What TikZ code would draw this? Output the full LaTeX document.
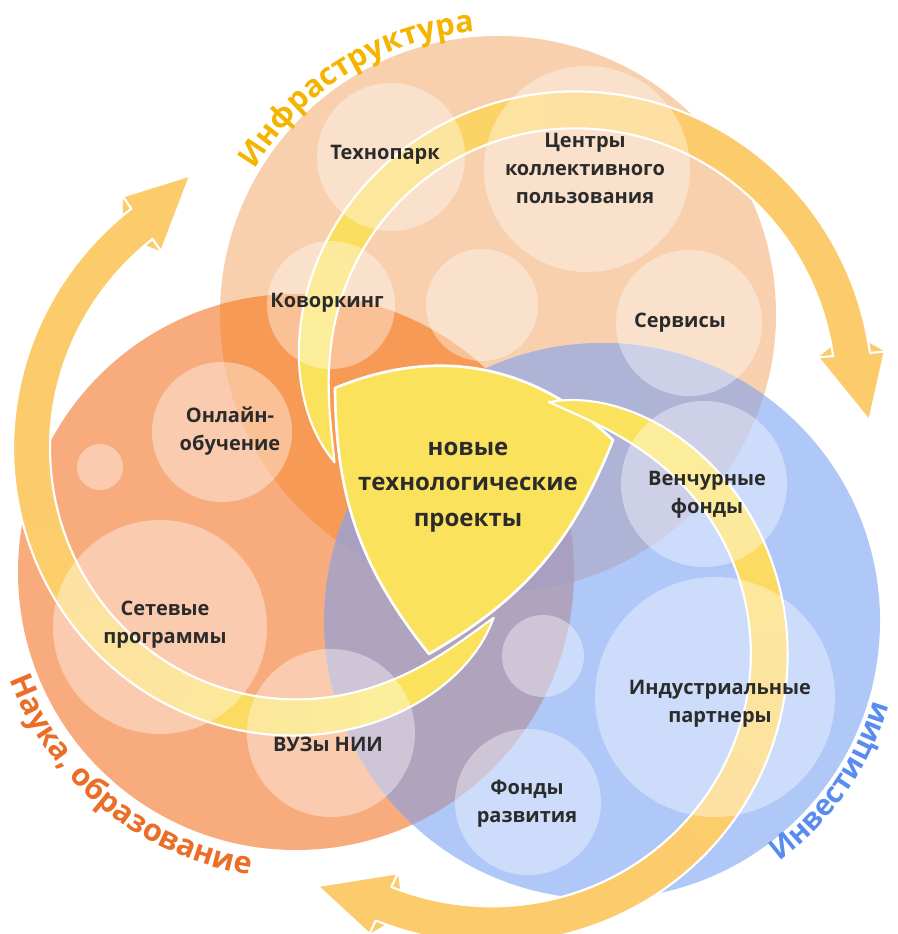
\documentclass[tikz,border=0pt]{standalone}
\usepackage{fontspec}
\setmainfont{Open Sans}
\usetikzlibrary{decorations.text}
\definecolor{peach}{HTML}{F8D0AE}
\definecolor{orng}{HTML}{F8AC7D}
\definecolor{blu}{HTML}{AFC8F8}
\definecolor{po}{HTML}{F79A56}
\definecolor{ob}{HTML}{B0A3BE}
\definecolor{pb}{HTML}{AFB4D7}
\definecolor{pob}{HTML}{A99FC0}
\definecolor{arr}{HTML}{FCCB6C}
\definecolor{ctr}{HTML}{FAE25C}
\definecolor{txt}{HTML}{2B2B2B}
\definecolor{infc}{HTML}{F5B400}
\definecolor{nauc}{HTML}{EB6E28}
\definecolor{invc}{HTML}{5A8CF0}
% one spiral arrow (the others are rotated copies)
\newcommand{\triarrow}{%
  \foreach \k in {0,...,19}{%
    \pgfmathsetmacro{\ta}{160+\k*9.75}%
    \pgfmathsetmacro{\tb}{min(355,\ta+10.5)}%
    \pgfmathtruncatemacro{\pc}{min(100,max(0,(\ta-190)*1.05))}%
    \fill[arr!\pc!ctr] plot[domain=\ta:\tb,samples=6,variable=\t]
      ({560+(rr(\t)+ww(\t))*cos(\t)},{380+(rr(\t)+ww(\t))*sin(\t)})
      -- plot[domain=\tb:\ta,samples=6,variable=\t]
      ({560+(rr(\t)-ww(\t))*cos(\t)},{380+(rr(\t)-ww(\t))*sin(\t)}) -- cycle;
  }%
  \fill[arr] (884.8,351.6) -- (869.3,420.7) -- (818.0,357.4)
     -- ({560+(rr(353)-ww(353))*cos(353)},{380+(rr(353)-ww(353))*sin(353)})
     -- ({560+(rr(353)+ww(353))*cos(353)},{380+(rr(353)+ww(353))*sin(353)}) -- cycle;
  \draw[arrowline] plot[domain=160:355,samples=90,variable=\t]
   ({560+(rr(\t)+ww(\t))*cos(\t)},{380+(rr(\t)+ww(\t))*sin(\t)})
   -- (884.8,351.6) -- (869.3,420.7) -- (818.0,357.4)
   -- plot[domain=355:160,samples=90,variable=\t]
   ({560+(rr(\t)-ww(\t))*cos(\t)},{380+(rr(\t)-ww(\t))*sin(\t)})
   -- cycle;}
\begin{document}
\begin{tikzpicture}[x=0.75pt,y=-0.75pt,
  declare function={rr(\t)=240+0.27*(\t-160); ww(\t)=18.5*(1-exp(-(\t-160)/14));},
  arrowline/.style={draw=white,line width=1.6pt,line join=round},
  bubble/.style={fill=white,fill opacity=0.38},
  lbl/.style={font=\fontsize{15}{21}\selectfont\bfseries,text=txt,align=center,inner sep=0pt},
  ctrlbl/.style={font=\fontsize{18}{26.5}\selectfont\bfseries,text=txt,align=center,inner sep=0pt}]
\useasboundingbox (0,0) rectangle (897,934);
\coordinate (P) at (498,314);
\coordinate (O) at (296,572);
\coordinate (B) at (602,621);
% big circles
\fill[peach] (P) circle[radius=278];
\fill[orng] (O) circle[radius=278];
\fill[blu] (B) circle[radius=278];
\begin{scope}\clip (P) circle[radius=278]; \fill[po] (O) circle[radius=278];\end{scope}
\begin{scope}\clip (O) circle[radius=278]; \fill[ob] (B) circle[radius=278];\end{scope}
\begin{scope}\clip (P) circle[radius=278]; \fill[pb] (B) circle[radius=278];\end{scope}
\begin{scope}\clip (P) circle[radius=278]; \clip (O) circle[radius=278]; \fill[pob] (B) circle[radius=278];\end{scope}
% centre
\filldraw[fill=ctr,draw=white,line width=2pt,line join=round]
  (335,388) to[bend left=33] (613,440) to[bend left=19] (429,654) to[bend left=19] cycle;
% arrows
\triarrow
\begin{scope}[rotate around={-120:(459,494)}]\triarrow\end{scope}
\begin{scope}[rotate around={120:(459,494)}]\triarrow\end{scope}
% bubbles
\fill[bubble] (391,157) circle[radius=74];
\fill[bubble] (587,169) circle[radius=103];
\fill[bubble] (331,305) circle[radius=64];
\fill[bubble] (482,305) circle[radius=56];
\fill[bubble] (689,323) circle[radius=73];
\fill[bubble] (222,432) circle[radius=70];
\fill[bubble] (100,467) circle[radius=23];
\fill[bubble] (160,627) circle[radius=107];
\fill[bubble] (331,733) circle[radius=84];
\fill[bubble] (543,656) circle[radius=41];
\fill[bubble] (528,802) circle[radius=73];
\fill[bubble] (715,697) circle[radius=120];
\fill[bubble] (704,484) circle[radius=83];
% labels
\node[lbl] (tp) at (385,155) {Технопарк};
\node[lbl] (ckp) at (585,168) {Центры\\коллективного\\пользования};
\node[lbl] (kov) at (327,303) {Коворкинг};
\node[lbl] (srv) at (680,323) {Сервисы};
\node[lbl] (onl) at (230,431) {Онлайн-\\обучение};
\node[lbl] (set) at (165,625) {Сетевые\\программы};
\node[lbl] (vuz) at (328,744) {ВУЗы НИИ};
\node[lbl] (fr) at (527,804) {Фонды\\развития};
\node[lbl] (ind) at (720,704) {Индустриальные\\партнеры};
\node[lbl] (ven) at (707,495) {Венчурные\\фонды};
\node[ctrlbl] (ctrtext) at (468,487) {новые\\технологические\\проекты};
% curved titles
\path[decorate,decoration={text along path,text align=center,
  text={|\fontsize{23}{23}\selectfont\bfseries\color{infc}|Инфраструктура}}]
  (P) ++(200:283) arc[start angle=200,end angle=276,radius=283];
\path[decorate,decoration={text along path,text align=center,
  text={|\fontsize{23}{23}\selectfont\bfseries\color{nauc}|Наука, образование}}]
  (O) ++(168:306) arc[start angle=168,end angle=90,radius=306];
\path[decorate,decoration={text along path,text align=center,
  text={|\fontsize{22}{22}\selectfont\bfseries\color{invc}|Инвестиции}}]
  (B) ++(62:299) arc[start angle=62,end angle=8,radius=299];
\end{tikzpicture}
\end{document}
